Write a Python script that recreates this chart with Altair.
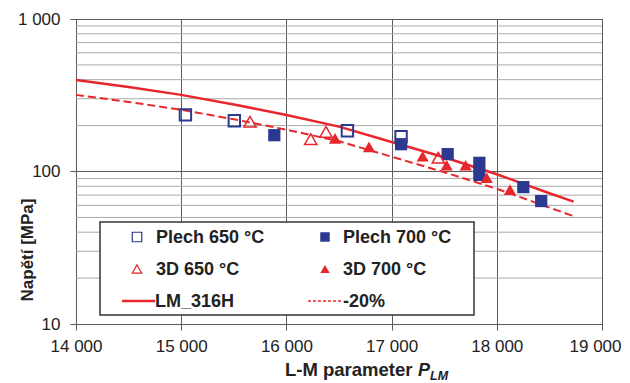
import altair as alt
import pandas as pd

# ---------------- data ----------------
plech650_x = [15040, 15505, 16580, 17090]
plech650_y = [235, 215, 185, 169]

plech700_x = [15885, 17090, 17533, 17834, 17834, 18252, 18422]
plech700_y = [173, 151, 130, 114, 95, 79, 64]

d3_650_x = [15654, 16231, 16376, 17444]
d3_650_y = [212, 163, 182, 123]

d3_700_x = [16462, 16785, 17295, 17523, 17704, 17904, 18125]
d3_700_y = [165, 145, 126, 110, 110, 91, 76]

lm_x = [14000, 14500, 15000, 15500, 16000, 16500, 17000, 17500, 18000, 18500, 18730]
lm_y = [398, 358, 318, 275, 235, 197, 156, 124, 96, 72, 63.5]
lm80_y = [318, 286, 254, 220, 188, 158, 125, 99, 77, 58, 51]

x_ticks = [14000, 15000, 16000, 17000, 18000, 19000]
y_ticks = [10, 100, 1000]
y_minor = [20, 30, 40, 50, 60, 70, 80, 90, 200, 300, 400, 500, 600, 700, 800, 900]

legend_labels = ["Plech 650 °C", "Plech 700 °C", "3D 650 °C", "3D 700 °C", "LM_316H", "-20%"]

BLUE = "#2b3990"
RED = "#e8262b"
GRID = "#5a5a5a"
FONT = "Liberation Sans"

x_scale = alt.Scale(domain=[14000, 19000], nice=False, zero=False)
y_scale = alt.Scale(type="log", domain=[10, 1000], nice=False)

fmt = "replace(format(datum.value, ','), ',', ' ')"

x_axis = alt.Axis(values=x_ticks, grid=True, gridColor=GRID, gridWidth=1,
                  domainColor=GRID, tickColor=GRID, tickSize=6, labelExpr=fmt,
                  labelFont=FONT, labelFontSize=17, labelColor="#222",
                  labelPadding=8, title=None, labelFlush=False,
                  labelOffset={"condition": {"test": "datum.value >= 19000", "value": -7},
                               "value": 0})
y_axis = alt.Axis(values=y_ticks, grid=True, gridColor=GRID, gridWidth=1,
                  domainColor=GRID, tickColor=GRID, tickSize=6, labelExpr=fmt,
                  labelFont=FONT, labelFontSize=17, labelColor="#222",
                  labelPadding=10, title=None, labelFlush=False)

def pts(xs, ys):
    return pd.DataFrame({"x": xs, "y": ys})

minor = alt.Chart(pd.DataFrame({"y": y_minor})).mark_rule(
    color="#a8a8a8", strokeWidth=1
).encode(y=alt.Y("y:Q", scale=y_scale, axis=y_axis))

def line_layer(ys, **kw):
    return alt.Chart(pts(lm_x, ys)).mark_line(color=RED, **kw).encode(
        x=alt.X("x:Q", scale=x_scale, axis=x_axis),
        y=alt.Y("y:Q", scale=y_scale, axis=y_axis),
    )

lm = line_layer(lm_y, strokeWidth=2.5)
lm80 = line_layer(lm80_y, strokeWidth=2, strokeDash=[8, 4])

def point_layer(xs, ys, shape, filled, color, size, sw=2):
    return alt.Chart(pts(xs, ys)).mark_point(
        shape=shape, filled=filled, color=color, size=size,
        strokeWidth=sw, opacity=1
    ).encode(
        x=alt.X("x:Q", scale=x_scale, axis=x_axis),
        y=alt.Y("y:Q", scale=y_scale, axis=y_axis),
    )

p650 = point_layer(plech650_x, plech650_y, "square", False, BLUE, 130)
p700 = point_layer(plech700_x, plech700_y, "square", True, BLUE, 150)
t650 = point_layer(d3_650_x, d3_650_y, "triangle-up", False, RED, 150, 1.5)
t700 = point_layer(d3_700_x, d3_700_y, "triangle-up", True, RED, 150)

one = pd.DataFrame({"a": [0]})

# ---------------- legend (custom box) ----------------
legend_layers = [
    alt.Chart(one).mark_rect(fill="white", stroke="#333", strokeWidth=1.5).encode(
        x=alt.value(24), x2=alt.value(398), y=alt.value(203), y2=alt.value(296)
    )
]
sym_specs = [
    (61, 218, "square", False, BLUE, 90, 1.2),
    (249, 218, "square", True, BLUE, 90, 1),
    (61, 250, "triangle-up", False, RED, 90, 1.2),
    (249, 250, "triangle-up", True, RED, 90, 1),
]
for sx, sy, shp, fl, col, sz, sw in sym_specs:
    legend_layers.append(
        alt.Chart(one).mark_point(shape=shp, filled=fl, color=col, size=sz,
                                  strokeWidth=sw, opacity=1).encode(
            x=alt.value(sx), y=alt.value(sy))
    )
legend_layers.append(
    alt.Chart(one).mark_rule(color=RED, strokeWidth=2.5).encode(
        x=alt.value(46), x2=alt.value(79), y=alt.value(282))
)
legend_layers.append(
    alt.Chart(one).mark_rule(color=RED, strokeWidth=1.5, strokeDash=[3, 2]).encode(
        x=alt.value(232), x2=alt.value(266), y=alt.value(282))
)
text_pos = [(80, 218), (267, 218), (80, 250), (267, 250), (79, 282), (267, 282)]
for lab, (tx, ty) in zip(legend_labels, text_pos):
    legend_layers.append(
        alt.Chart(one).mark_text(text=lab, align="left", baseline="middle",
                                 font=FONT, fontSize=18, fontWeight="bold",
                                 color="#222").encode(
            x=alt.value(tx), y=alt.value(ty + 1))
    )

# ---------------- axis titles ----------------
titles = [
    alt.Chart(one).mark_text(text="Napětí [MPa]", align="center", baseline="middle",
                             angle=270, font=FONT, fontSize=17, fontWeight="bold",
                             color="#222").encode(x=alt.value(-48), y=alt.value(231)),
    alt.Chart(one).mark_text(text="L-M parameter", align="left", baseline="alphabetic",
                             font=FONT, fontSize=18.5, fontWeight="bold",
                             color="#222").encode(x=alt.value(209), y=alt.value(357)),
    alt.Chart(one).mark_text(text="P", align="left", baseline="alphabetic",
                             font=FONT, fontSize=18, fontWeight="bold", fontStyle="italic",
                             color="#222").encode(x=alt.value(342), y=alt.value(357)),
    alt.Chart(one).mark_text(text="LM", align="left", baseline="alphabetic",
                             font=FONT, fontSize=12.5, fontWeight="bold", fontStyle="italic",
                             color="#222").encode(x=alt.value(354), y=alt.value(361)),
]

chart = alt.layer(
    minor, lm, lm80, p650, p700, t650, t700, *legend_layers, *titles
).properties(
    width=526, height=305,
    autosize=alt.AutoSizeParams(type="none"),
    padding={"left": 68, "top": 11, "right": 20, "bottom": 59},
    background="white",
).configure_view(stroke=GRID, strokeWidth=1)

chart.save("out.html", embed_options={"renderer": "svg", "actions": False})
